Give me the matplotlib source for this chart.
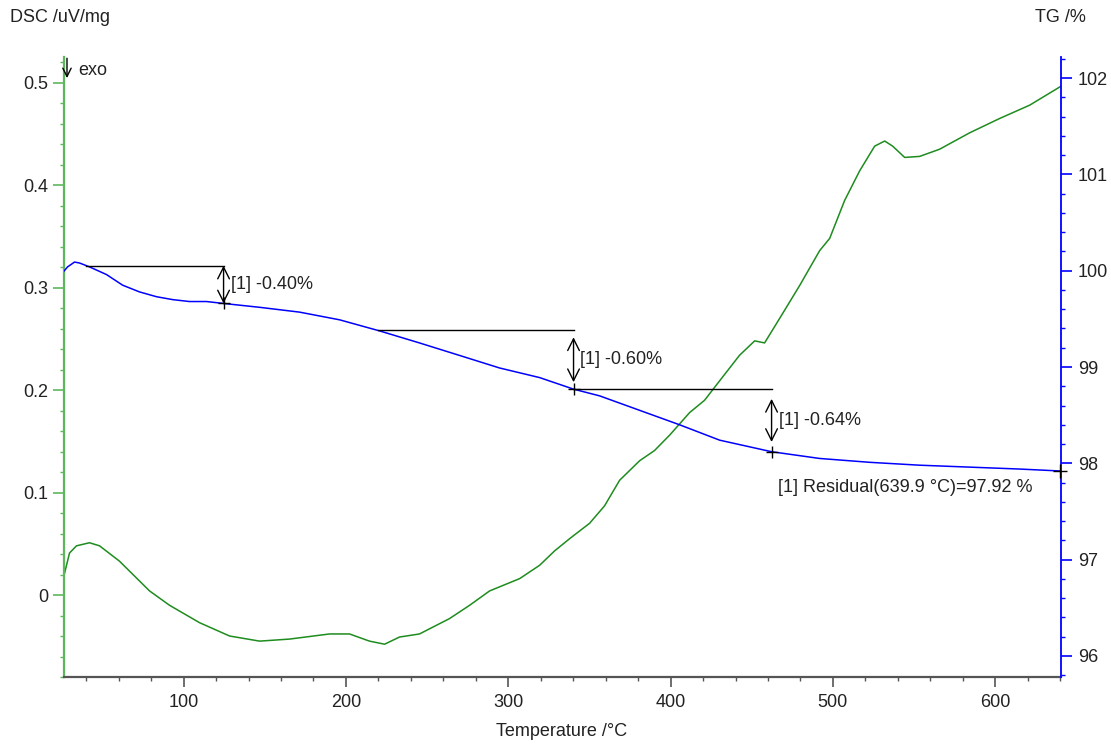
import matplotlib
matplotlib.use('Agg')
import matplotlib.pyplot as plt
from matplotlib.ticker import MultipleLocator, FuncFormatter
import numpy as np

plt.rcParams['font.family'] = ['Liberation Sans', 'DejaVu Sans']
plt.rcParams['font.size'] = 13

C_DSC = '#1E8C1E'
C_DSC_AX = '#5DB85D'
C_TG = '#0000FF'
C_AX = '#555555'
C_TXT = '#222222'

# DSC curve (uV/mg) vs temperature (°C)
dsc_t = [26.0, 29.7, 34.0, 42.0, 48.2, 60.5, 79.0, 91.3, 109.8, 128.3, 146.8, 165.2,
         189.9, 202.2, 214.5, 223.8, 233.0, 245.3, 263.8, 276.2, 288.5, 307.0, 319.3,
         328.5, 337.8, 350.1, 359.3, 368.6, 380.9, 390.1, 399.4, 411.7, 420.9, 430.2,
         442.5, 451.8, 457.9, 467.2, 479.5, 491.8, 498.0, 507.2, 516.5, 525.7, 531.9,
         536.8, 544.2, 553.4, 565.7, 584.2, 602.7, 621.2, 640.0]
dsc_v = [0.017, 0.041, 0.048, 0.051, 0.048, 0.033, 0.004, -0.010, -0.027, -0.040, -0.045,
         -0.043, -0.038, -0.038, -0.045, -0.048, -0.041, -0.038, -0.023, -0.010, 0.004,
         0.016, 0.029, 0.043, 0.055, 0.070, 0.087, 0.112, 0.131, 0.141, 0.156, 0.178,
         0.190, 0.209, 0.234, 0.248, 0.246, 0.270, 0.302, 0.336, 0.348, 0.385, 0.414,
         0.438, 0.443, 0.438, 0.427, 0.428, 0.435, 0.451, 0.465, 0.478, 0.496]

# TG curve (%) vs temperature (°C)
tg_t = [26.0, 28.5, 32.8, 35.9, 42.0, 52.5, 62.4, 72.8, 83.3, 93.2, 103.6, 114.1, 124.6,
        146.8, 171.4, 196.1, 220.7, 245.3, 270.0, 294.6, 319.3, 340.2, 356.3, 380.9,
        405.5, 430.2, 462.2, 491.8, 522.6, 553.4, 584.2, 615.0, 639.9]
tg_v = [99.99, 100.04, 100.09, 100.08, 100.04, 99.96, 99.85, 99.78, 99.73, 99.70, 99.68,
        99.68, 99.66, 99.62, 99.57, 99.49, 99.375, 99.25, 99.12, 98.99, 98.89, 98.77,
        98.70, 98.55, 98.40, 98.24, 98.12, 98.05, 98.01, 97.98, 97.96, 97.94, 97.92]

# mass-loss steps
step_from = [40.0, 219.5, 340.2]
step_to = [124.6, 340.2, 462.2]
step_txt = ['[1] -0.40%', '[1] -0.60%', '[1] -0.64%']
step_gap = [0, 5, 7]
res_t = 639.9
res_v = 97.92
res_txt = '[1] Residual(639.9 °C)=97.92 %'

fig = plt.figure(figsize=(11.11, 7.46), dpi=100)
ax = fig.add_axes([64 / 1111, 1 - 677 / 746, (1061 - 64) / 1111, (677 - 57) / 746])
ax2 = ax.twinx()

ax.plot(dsc_t, dsc_v, color=C_DSC, lw=1.1)
ax2.plot(tg_t, tg_v, color=C_TG, lw=1.1)

ax.set_xlim(26.3, 640.5)
ax.set_ylim(-0.08, 0.525)
ax2.set_ylim(95.78, 102.22)

# step annotations
for t0, t1, txt, gap in zip(step_from, step_to, step_txt, step_gap):
    up = np.interp(t0, tg_t, tg_v)
    lo = np.interp(t1, tg_t, tg_v)
    ax2.plot([t0, t1], [up, up], color='black', lw=1)
    ax2.annotate('', xy=(t1, lo), xytext=(t1, up),
                 arrowprops=dict(arrowstyle='<->,head_length=0.6,head_width=0.3', color='black',
                                 lw=1, shrinkA=gap, shrinkB=gap, mutation_scale=14))
    ax2.plot(t1, lo, marker='+', color='black', ms=8, mew=1)
    ax2.annotate(txt, xy=(t1, (up + lo) / 2), xytext=(5, 0), textcoords='offset points',
                 ha='left', va='center', color=C_TXT)

ax2.plot(res_t, res_v, marker='+', color='black', ms=10, mew=1, clip_on=False, zorder=5)
ax2.annotate(res_txt, xy=(res_t, res_v), xytext=(-20, -12), textcoords='offset points',
             ha='right', va='center', color=C_TXT)

# axes styling
for s in ['top', 'right']:
    ax.spines[s].set_visible(False)
for s in ['top', 'left', 'bottom']:
    ax2.spines[s].set_visible(False)
ax.spines['left'].set_color(C_DSC_AX)
ax.spines['left'].set_linewidth(1.6)
ax.spines['bottom'].set_color(C_AX)
ax.spines['bottom'].set_linewidth(1.6)
ax2.spines['right'].set_color(C_TG)
ax2.spines['right'].set_linewidth(1.3)

ax.xaxis.set_major_locator(MultipleLocator(100))
ax.xaxis.set_minor_locator(MultipleLocator(20))
ax.yaxis.set_major_locator(MultipleLocator(0.1))
ax.yaxis.set_minor_locator(MultipleLocator(0.02))
ax.yaxis.set_major_formatter(FuncFormatter(lambda v, p: f'{round(v, 3):g}'))
ax2.yaxis.set_major_locator(MultipleLocator(1))
ax2.yaxis.set_minor_locator(MultipleLocator(0.2))

ax.tick_params(axis='x', which='major', length=7, width=1.2, color=C_AX, labelcolor=C_TXT, pad=5)
ax.tick_params(axis='x', which='minor', length=3, width=1, color=C_AX)
ax.tick_params(axis='y', which='major', length=8, width=1.2, color=C_DSC_AX, labelcolor=C_TXT, pad=3)
ax.tick_params(axis='y', which='minor', length=3, width=1, color=C_DSC_AX)
ax2.tick_params(axis='y', which='major', length=8, width=1.2, color=C_TG, labelcolor=C_TXT, pad=4)
ax2.tick_params(axis='y', which='minor', length=3, width=1, color=C_TG)

# exo marker
ax.annotate('', xy=(0.003, 0.966), xytext=(0.003, 0.998), xycoords='axes fraction',
            annotation_clip=False,
            arrowprops=dict(arrowstyle='->,head_length=0.5,head_width=0.25', color='black', lw=1,
                            shrinkA=0, shrinkB=0, mutation_scale=12))
ax.text(0.014, 0.979, 'exo', transform=ax.transAxes, ha='left', va='center', color=C_TXT)

fig.text(10 / 1111, 1 - 18 / 746, 'DSC /uV/mg', ha='left', va='center', color=C_TXT)
fig.text(1086 / 1111, 1 - 18 / 746, 'TG /%', ha='right', va='center', color=C_TXT)
fig.text(562 / 1111, 1 - 731 / 746, 'Temperature /°C', ha='center', va='center', color=C_TXT)

fig.savefig('out.png', dpi=100, facecolor='white')
